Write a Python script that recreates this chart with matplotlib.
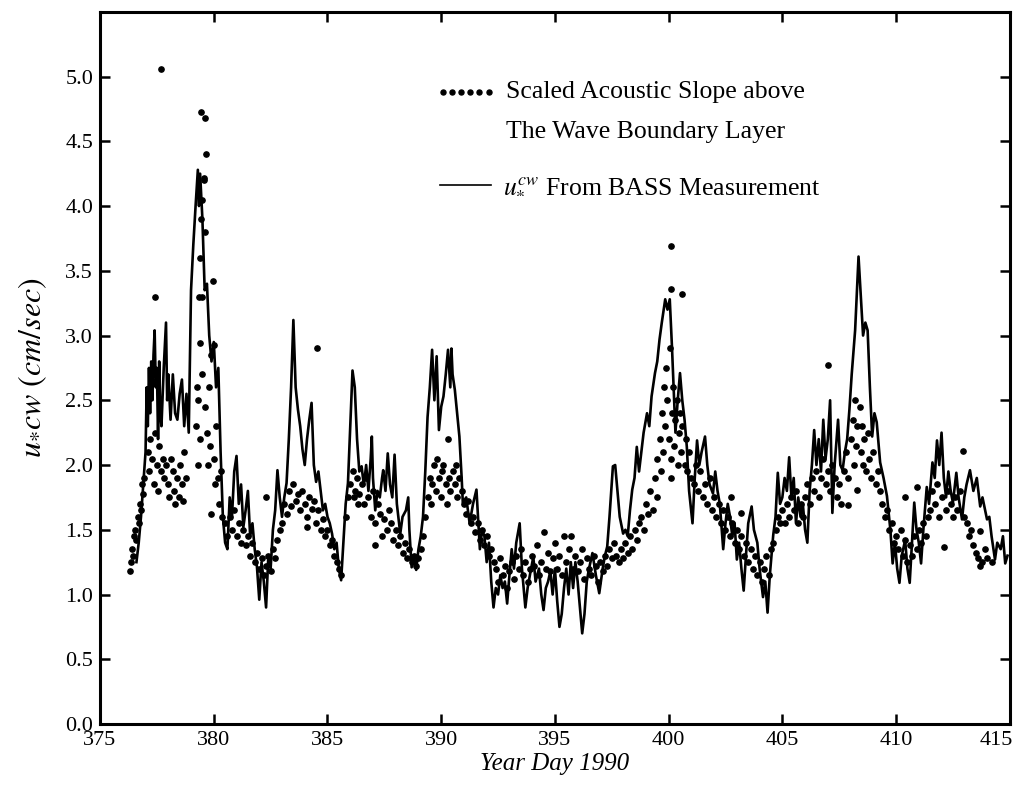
import matplotlib
matplotlib.use("Agg")
import matplotlib.pyplot as plt
from matplotlib.transforms import ScaledTranslation

plt.rcParams['font.family'] = ['Liberation Serif', 'DejaVu Serif']
plt.rcParams['mathtext.fontset'] = 'stix'

# u*cw from the BASS tripod (cm/s), by year day
bass_day = [
    376.6, 376.7, 376.8, 376.9, 377.0, 377.05, 377.1, 377.15, 377.2, 377.25,
    377.3, 377.35, 377.4, 377.45, 377.5, 377.55, 377.6, 377.65, 377.7, 377.8,
    377.9, 377.95, 378.0, 378.1, 378.2, 378.3, 378.4, 378.5, 378.6, 378.7,
    378.8, 378.9, 379.0, 379.1, 379.2, 379.3, 379.35, 379.4, 379.5, 379.6,
    379.7, 379.8, 379.9, 380.0, 380.1, 380.2, 380.3, 380.4, 380.5, 380.6,
    380.7, 380.8, 380.9, 381.0, 381.1, 381.2, 381.3, 381.4, 381.5, 381.6,
    381.7, 381.8, 381.9, 382.0, 382.1, 382.2, 382.3, 382.4, 382.5, 382.6,
    382.7, 382.8, 382.9, 383.0, 383.1, 383.2, 383.3, 383.4, 383.5, 383.6,
    383.7, 383.8, 383.9, 384.0, 384.1, 384.2, 384.3, 384.4, 384.5, 384.6,
    384.7, 384.8, 384.9, 385.0, 385.1, 385.2, 385.3, 385.4, 385.5, 385.6,
    385.7, 385.8, 385.9, 386.0, 386.1, 386.2, 386.3, 386.4, 386.5, 386.6,
    386.7, 386.8, 386.9, 386.95, 387.0, 387.1, 387.2, 387.3, 387.4, 387.45,
    387.55, 387.65, 387.75, 387.85, 387.95, 388.05, 388.2, 388.3, 388.45, 388.55,
    388.6, 388.7, 388.8, 388.9, 389.0, 389.1, 389.2, 389.3, 389.4, 389.5,
    389.6, 389.7, 389.8, 389.9, 390.0, 390.1, 390.2, 390.3, 390.4, 390.45,
    390.5, 390.6, 390.7, 390.8, 390.9, 390.95, 391.1, 391.25, 391.4, 391.55,
    391.7, 391.8, 391.9, 392.0, 392.1, 392.2, 392.3, 392.4, 392.5, 392.6,
    392.7, 392.8, 392.9, 393.0, 393.1, 393.2, 393.3, 393.45, 393.55, 393.7,
    393.8, 393.9, 394.05, 394.15, 394.3, 394.4, 394.5, 394.6, 394.7, 394.8,
    394.9, 395.0, 395.1, 395.2, 395.3, 395.4, 395.5, 395.6, 395.7, 395.8,
    395.9, 396.0, 396.1, 396.2, 396.3, 396.4, 396.5, 396.65, 396.8, 396.95,
    397.1, 397.2, 397.3, 397.4, 397.55, 397.65, 397.75, 397.85, 398.0, 398.1,
    398.2, 398.3, 398.4, 398.5, 398.6, 398.7, 398.8, 398.9, 399.05, 399.15,
    399.25, 399.4, 399.5, 399.6, 399.7, 399.85, 399.95, 400.05, 400.15, 400.3,
    400.4, 400.5, 400.6, 400.7, 400.8, 400.9, 401.05, 401.15, 401.25, 401.35,
    401.45, 401.6, 401.7, 401.8, 401.95, 402.05, 402.15, 402.25, 402.4, 402.5,
    402.6, 402.7, 402.8, 402.9, 403.0, 403.1, 403.2, 403.3, 403.4, 403.5,
    403.65, 403.75, 403.9, 404.0, 404.15, 404.25, 404.35, 404.45, 404.6, 404.7,
    404.8, 404.9, 405.0, 405.1, 405.2, 405.3, 405.4, 405.5, 405.6, 405.7,
    405.8, 405.9, 406.0, 406.1, 406.2, 406.3, 406.4, 406.5, 406.6, 406.7,
    406.8, 406.9, 407.0, 407.1, 407.2, 407.3, 407.45, 407.55, 407.65, 407.75,
    407.85, 407.95, 408.05, 408.2, 408.35, 408.45, 408.55, 408.65, 408.75, 408.85,
    408.95, 409.05, 409.15, 409.3, 409.45, 409.6, 409.75, 409.85, 409.95, 410.05,
    410.15, 410.25, 410.4, 410.5, 410.6, 410.7, 410.8, 410.9, 411.0, 411.1,
    411.2, 411.35, 411.45, 411.6, 411.7, 411.8, 411.9, 412.0, 412.1, 412.2,
    412.3, 412.4, 412.5, 412.65, 412.75, 412.9, 413.0, 413.1, 413.25, 413.4,
    413.55, 413.7, 413.8, 414.0, 414.1, 414.2, 414.35, 414.45, 414.6, 414.7,
    414.8, 414.9,
]
bass_u = [
    1.25, 1.4, 1.6, 1.85, 2.1, 2.6, 2.3, 2.75, 2.4, 2.8,
    2.5, 2.85, 3.04, 2.6, 2.75, 2.2, 2.8, 2.4, 2.3, 2.75,
    3.1, 2.5, 2.7, 2.35, 2.7, 2.4, 2.35, 2.55, 2.66, 2.3,
    2.55, 2.25, 3.35, 3.7, 4.0, 4.28, 4.0, 4.25, 3.9, 3.35,
    3.4, 3.0, 2.8, 2.95, 2.6, 2.75, 2.1, 1.6, 1.4, 1.35,
    1.75, 1.6, 1.95, 2.07, 1.7, 1.85, 1.52, 1.65, 1.8, 1.45,
    1.55, 1.35, 1.21, 0.96, 1.25, 1.1, 0.9, 1.3, 1.2, 1.5,
    1.65, 1.96, 1.75, 1.6, 1.75, 1.86, 2.2, 2.6, 3.12, 2.6,
    2.43, 2.3, 2.12, 2.0, 2.2, 2.35, 2.48, 2.0, 1.87, 1.95,
    1.8, 1.65, 1.7, 1.6, 1.55, 1.47, 1.35, 1.4, 1.2, 1.11,
    1.4, 1.7, 1.86, 2.3, 2.73, 2.6, 2.2, 1.95, 1.99, 1.84,
    2.0, 1.8, 2.05, 2.22, 1.9, 1.65, 1.8, 1.75, 1.9, 1.96,
    1.8, 2.09, 1.85, 1.75, 2.08, 1.7, 1.47, 1.6, 1.65, 1.75,
    1.5, 1.21, 1.3, 1.19, 1.35, 1.45, 1.6, 1.95, 2.37, 2.6,
    2.89, 2.5, 2.84, 2.27, 2.45, 2.53, 2.7, 2.89, 2.6, 2.9,
    2.7, 2.58, 2.4, 2.22, 1.9, 1.71, 1.75, 1.55, 1.7, 1.81,
    1.35, 1.5, 1.45, 1.25, 1.4, 1.1, 0.9, 1.05, 1.0, 1.15,
    1.05, 1.1, 0.93, 1.15, 1.35, 1.2, 1.4, 1.55, 1.2, 0.9,
    1.05, 1.15, 1.29, 1.1, 1.2, 1.0, 0.88, 1.05, 1.1, 1.18,
    1.0, 1.2, 0.95, 0.75, 0.85, 1.05, 1.2, 1.0, 1.25, 1.05,
    1.25, 1.1, 0.9, 0.7, 0.85, 1.1, 1.2, 1.32, 1.15, 1.01,
    1.2, 1.3, 1.37, 1.6, 1.99, 2.0, 1.8, 1.6, 1.47, 1.5,
    1.45, 1.65, 1.81, 1.9, 2.14, 1.95, 2.1, 2.25, 2.4, 2.3,
    2.53, 2.71, 2.8, 2.97, 3.1, 3.28, 3.2, 3.28, 2.9, 2.25,
    2.5, 2.71, 2.5, 2.35, 2.14, 1.8, 1.55, 1.9, 2.19, 2.0,
    2.1, 2.22, 2.0, 1.85, 1.78, 1.95, 1.8, 1.7, 1.35, 1.55,
    1.7, 1.6, 1.45, 1.55, 1.27, 1.4, 1.2, 1.03, 1.3, 1.55,
    1.68, 1.5, 1.4, 1.2, 0.98, 1.1, 0.86, 1.15, 1.46, 1.6,
    1.94, 1.7, 1.75, 1.9, 1.8, 2.06, 1.75, 1.9, 1.55, 1.75,
    1.6, 1.7, 1.5, 1.4, 1.8, 2.0, 2.27, 2.0, 2.2, 1.95,
    2.35, 2.05, 2.2, 2.5, 1.63, 2.0, 2.35, 2.0, 1.96, 2.1,
    2.2, 2.43, 2.7, 3.04, 3.61, 3.3, 3.0, 3.1, 3.04, 2.6,
    2.22, 2.4, 2.33, 2.02, 1.9, 1.76, 1.5, 1.24, 1.4, 1.2,
    1.09, 1.3, 1.42, 1.2, 1.09, 1.4, 1.71, 1.5, 1.4, 1.24,
    1.5, 1.83, 1.7, 2.02, 1.9, 2.19, 2.0, 2.25, 1.9, 1.75,
    1.95, 1.8, 1.71, 1.94, 1.75, 1.58, 1.75, 1.85, 1.96, 1.8,
    1.9, 1.68, 1.75, 1.58, 1.6, 1.45, 1.27, 1.4, 1.35, 1.45,
    1.24, 1.3,
]

# scaled acoustic slope above the wave boundary layer
acoustic_day = [
    376.3, 376.35, 376.4, 376.45, 376.5, 376.55, 376.6, 376.65, 376.7, 376.75,
    376.8, 376.85, 376.9, 376.95, 377.1, 377.15, 377.2, 377.3, 377.35, 377.4,
    377.42, 377.5, 377.55, 377.6, 377.7, 377.7, 377.75, 377.8, 377.9, 378.0,
    378.05, 378.1, 378.2, 378.25, 378.3, 378.4, 378.45, 378.5, 378.6, 378.65,
    378.7, 378.8, 379.2, 379.25, 379.3, 379.3, 379.35, 379.4, 379.4, 379.4,
    379.45, 379.45, 379.5, 379.5, 379.5, 379.55, 379.55, 379.6, 379.6, 379.6,
    379.65, 379.7, 379.75, 379.8, 379.85, 379.9, 379.9, 379.97, 380.0, 380.0,
    380.05, 380.1, 380.2, 380.25, 380.3, 380.35, 380.5, 380.6, 380.7, 380.8,
    380.9, 381.0, 381.1, 381.2, 381.3, 381.4, 381.5, 381.6, 381.7, 381.8,
    381.9, 382.0, 382.1, 382.2, 382.3, 382.3, 382.4, 382.5, 382.6, 382.7,
    382.8, 382.9, 383.0, 383.1, 383.2, 383.3, 383.4, 383.5, 383.6, 383.7,
    383.8, 383.9, 384.0, 384.1, 384.1, 384.2, 384.3, 384.4, 384.5, 384.55,
    384.6, 384.7, 384.8, 384.9, 385.0, 385.1, 385.2, 385.3, 385.4, 385.5,
    385.6, 385.8, 385.9, 386.0, 386.1, 386.15, 386.2, 386.3, 386.35, 386.4,
    386.5, 386.6, 386.7, 386.8, 386.9, 387.0, 387.1, 387.1, 387.2, 387.3,
    387.4, 387.5, 387.6, 387.7, 387.8, 387.9, 388.0, 388.1, 388.2, 388.3,
    388.4, 388.5, 388.6, 388.7, 388.8, 388.9, 389.0, 389.1, 389.2, 389.3,
    389.4, 389.5, 389.55, 389.6, 389.7, 389.75, 389.8, 389.9, 390.0, 390.05,
    390.1, 390.2, 390.25, 390.3, 390.35, 390.4, 390.5, 390.6, 390.65, 390.7,
    390.8, 390.9, 391.0, 391.1, 391.2, 391.3, 391.4, 391.5, 391.6, 391.7,
    391.8, 391.9, 392.0, 392.1, 392.2, 392.3, 392.4, 392.5, 392.6, 392.7,
    392.8, 392.9, 393.0, 393.1, 393.2, 393.3, 393.4, 393.5, 393.6, 393.7,
    393.8, 393.9, 394.0, 394.1, 394.2, 394.3, 394.4, 394.5, 394.6, 394.7,
    394.8, 394.9, 395.0, 395.1, 395.2, 395.3, 395.4, 395.5, 395.6, 395.7,
    395.8, 395.9, 396.0, 396.1, 396.2, 396.3, 396.4, 396.5, 396.6, 396.7,
    396.8, 396.9, 397.0, 397.1, 397.2, 397.3, 397.4, 397.5, 397.6, 397.7,
    397.8, 397.9, 398.0, 398.1, 398.2, 398.3, 398.4, 398.5, 398.6, 398.7,
    398.8, 398.9, 399.0, 399.1, 399.2, 399.3, 399.4, 399.5, 399.5, 399.6,
    399.65, 399.7, 399.75, 399.8, 399.85, 399.9, 399.95, 400.0, 400.05, 400.1,
    400.1, 400.1, 400.1, 400.15, 400.2, 400.25, 400.3, 400.35, 400.4, 400.45,
    400.5, 400.55, 400.6, 400.6, 400.7, 400.75, 400.8, 400.9, 401.0, 401.1,
    401.2, 401.3, 401.4, 401.5, 401.6, 401.7, 401.8, 401.9, 402.0, 402.1,
    402.2, 402.3, 402.4, 402.5, 402.6, 402.7, 402.75, 402.8, 402.9, 403.0,
    403.1, 403.2, 403.2, 403.3, 403.4, 403.5, 403.6, 403.7, 403.8, 403.9,
    404.0, 404.1, 404.2, 404.3, 404.4, 404.5, 404.6, 404.7, 404.8, 404.9,
    405.0, 405.1, 405.2, 405.3, 405.4, 405.5, 405.6, 405.7, 405.8, 405.9,
    406.0, 406.1, 406.2, 406.3, 406.4, 406.5, 406.6, 406.7, 406.8, 406.9,
    407.0, 407.0, 407.1, 407.2, 407.3, 407.4, 407.5, 407.6, 407.7, 407.8,
    407.9, 407.9, 408.0, 408.1, 408.15, 408.2, 408.25, 408.3, 408.3, 408.4,
    408.45, 408.5, 408.55, 408.6, 408.7, 408.75, 408.8, 408.9, 409.0, 409.1,
    409.2, 409.3, 409.4, 409.5, 409.6, 409.7, 409.8, 409.9, 410.0, 410.1,
    410.2, 410.3, 410.4, 410.4, 410.5, 410.6, 410.7, 410.8, 410.9, 410.9,
    411.0, 411.1, 411.2, 411.3, 411.4, 411.5, 411.6, 411.7, 411.8, 411.9,
    412.0, 412.1, 412.2, 412.3, 412.4, 412.5, 412.6, 412.7, 412.8, 412.95,
    413.0, 413.1, 413.2, 413.3, 413.4, 413.5, 413.6, 413.7, 413.7, 413.8,
    413.9, 414.0, 414.2,
]
acoustic_u = [
    1.18, 1.25, 1.35, 1.3, 1.45, 1.5, 1.42, 1.6, 1.55, 1.7,
    1.65, 1.85, 1.78, 1.9, 2.1, 1.95, 2.2, 2.05, 1.85, 2.25,
    3.3, 2.0, 1.8, 2.15, 1.95, 5.06, 2.05, 1.9, 2.0, 1.85,
    1.75, 2.05, 1.95, 1.8, 1.7, 1.9, 1.75, 2.0, 1.85, 1.72,
    2.1, 1.9, 2.3, 2.6, 2.5, 2.0, 3.3, 2.2, 3.6, 2.94,
    3.9, 4.73, 4.05, 2.7, 3.3, 4.22, 4.2, 3.8, 2.45, 4.68,
    4.4, 2.25, 2.0, 2.6, 2.15, 2.85, 1.62, 3.42, 2.05, 2.93,
    1.85, 2.3, 1.9, 1.7, 1.95, 1.6, 1.55, 1.45, 1.6, 1.5,
    1.65, 1.45, 1.55, 1.4, 1.5, 1.38, 1.45, 1.3, 1.4, 1.25,
    1.32, 1.2, 1.28, 1.15, 1.22, 1.75, 1.3, 1.18, 1.35, 1.28,
    1.42, 1.5, 1.55, 1.7, 1.62, 1.8, 1.68, 1.85, 1.72, 1.78,
    1.65, 1.8, 1.7, 1.6, 1.52, 1.75, 1.66, 1.72, 1.55, 2.9,
    1.65, 1.5, 1.58, 1.45, 1.5, 1.38, 1.42, 1.3, 1.25, 1.2,
    1.15, 1.6, 1.75, 1.85, 1.95, 1.75, 1.8, 1.9, 1.7, 1.78,
    1.85, 1.7, 1.9, 1.75, 1.6, 1.8, 1.55, 1.38, 1.7, 1.62,
    1.45, 1.58, 1.5, 1.65, 1.55, 1.42, 1.5, 1.38, 1.45, 1.32,
    1.4, 1.28, 1.35, 1.25, 1.3, 1.22, 1.28, 1.35, 1.45, 1.6,
    1.75, 1.9, 1.7, 1.85, 2.0, 1.8, 2.05, 1.9, 1.75, 1.95,
    2.0, 1.85, 1.7, 2.2, 1.9, 1.8, 1.95, 1.85, 2.0, 1.75,
    1.9, 1.8, 1.7, 1.62, 1.72, 1.55, 1.6, 1.48, 1.55, 1.42,
    1.5, 1.38, 1.45, 1.3, 1.35, 1.25, 1.2, 1.1, 1.28, 1.15,
    1.22, 1.05, 1.18, 1.25, 1.12, 1.3, 1.2, 1.35, 1.15, 1.25,
    1.1, 1.2, 1.3, 1.22, 1.38, 1.15, 1.25, 1.48, 1.2, 1.32,
    1.18, 1.28, 1.4, 1.2, 1.3, 1.15, 1.45, 1.25, 1.35, 1.45,
    1.2, 1.3, 1.18, 1.25, 1.35, 1.12, 1.28, 1.2, 1.15, 1.3,
    1.22, 1.1, 1.25, 1.18, 1.3, 1.22, 1.35, 1.28, 1.4, 1.3,
    1.25, 1.35, 1.28, 1.4, 1.32, 1.45, 1.35, 1.5, 1.42, 1.55,
    1.6, 1.5, 1.7, 1.62, 1.8, 1.65, 1.9, 1.75, 2.05, 2.2,
    1.95, 2.4, 2.1, 2.6, 2.3, 2.75, 2.5, 2.2, 2.9, 2.05,
    1.9, 3.69, 3.36, 2.4, 2.6, 2.15, 2.35, 2.5, 2.0, 2.25,
    2.4, 2.1, 2.3, 3.32, 2.0, 2.2, 1.95, 2.1, 1.9, 1.85,
    2.0, 1.8, 1.95, 1.75, 1.85, 1.7, 1.9, 1.65, 1.75, 1.6,
    1.7, 1.55, 1.65, 1.5, 1.6, 1.45, 1.75, 1.55, 1.4, 1.5,
    1.35, 1.45, 1.63, 1.3, 1.4, 1.25, 1.35, 1.2, 1.3, 1.15,
    1.25, 1.1, 1.2, 1.3, 1.15, 1.35, 1.4, 1.5, 1.6, 1.55,
    1.65, 1.55, 1.7, 1.6, 1.75, 1.65, 1.8, 1.55, 1.7, 1.6,
    1.75, 1.85, 1.7, 1.9, 1.8, 1.95, 1.75, 1.9, 2.05, 1.85,
    1.95, 2.77, 1.8, 2.0, 1.9, 1.75, 1.85, 1.7, 1.95, 2.1,
    1.9, 1.69, 2.2, 2.35, 2.0, 2.5, 2.15, 2.3, 1.81, 2.45,
    2.1, 2.3, 2.0, 2.2, 1.95, 2.25, 2.05, 1.9, 2.1, 1.85,
    1.95, 1.8, 1.7, 1.6, 1.65, 1.5, 1.55, 1.4, 1.45, 1.35,
    1.5, 1.3, 1.75, 1.42, 1.25, 1.38, 1.3, 1.45, 1.83, 1.35,
    1.5, 1.4, 1.55, 1.45, 1.6, 1.65, 1.8, 1.7, 1.85, 1.6,
    1.75, 1.37, 1.65, 1.8, 1.7, 1.6, 1.75, 1.65, 1.8, 2.11,
    1.6, 1.55, 1.45, 1.5, 1.38, 1.32, 1.28, 1.22, 1.49, 1.25,
    1.35, 1.28, 1.25,
]

fig = plt.figure(figsize=(10.21, 7.89), dpi=100)
ax = fig.add_axes([0.098, 0.0824, 0.891, 0.9026])

ax.plot(bass_day, bass_u, color='black', lw=1.9, zorder=2)
ax.plot(acoustic_day, acoustic_u, 'o', color='black', ms=3.8, zorder=3)

ax.set_xlim(375, 415)
ax.set_ylim(0, 5.5)
ax.set_xticks(range(375, 416, 5))
ax.set_yticks([0.5 * i for i in range(11)])
ax.set_yticklabels(['%.1f' % (0.5 * i) for i in range(11)])
ax.tick_params(direction='in', length=7, width=1.8, labelsize=16,
               top=True, right=True, pad=5)
for sp in ax.spines.values():
    sp.set_linewidth(2.2)

# pull the last day label in so it stays on the page
last = ax.get_xticklabels()[-1]
last.set_transform(last.get_transform() +
                   ScaledTranslation(-10 / 72, 0, fig.dpi_scale_trans))

ax.set_xlabel('Year Day 1990', fontsize=18, style='italic', labelpad=2)
ax.set_ylabel(r'$u_{*}cw\ (cm/sec)$', fontsize=23, labelpad=12)

# hand-drawn key in axes coordinates
ax.plot([0.377, 0.387, 0.397, 0.407, 0.417, 0.427], [0.888] * 6, 'o',
        color='black', ms=3.6, transform=ax.transAxes)
ax.text(0.446, 0.888, 'Scaled Acoustic Slope above', transform=ax.transAxes,
        fontsize=18.5, va='center')
ax.text(0.446, 0.831, 'The Wave Boundary Layer', transform=ax.transAxes,
        fontsize=18.5, va='center')
ax.plot([0.374, 0.430], [0.757, 0.757], color='black', lw=1.2,
        transform=ax.transAxes)
ax.text(0.443, 0.757, r'$u_{*}^{cw}$ From BASS Measurement',
        transform=ax.transAxes, fontsize=18.5, va='center')

fig.savefig('out.png', dpi=100)
